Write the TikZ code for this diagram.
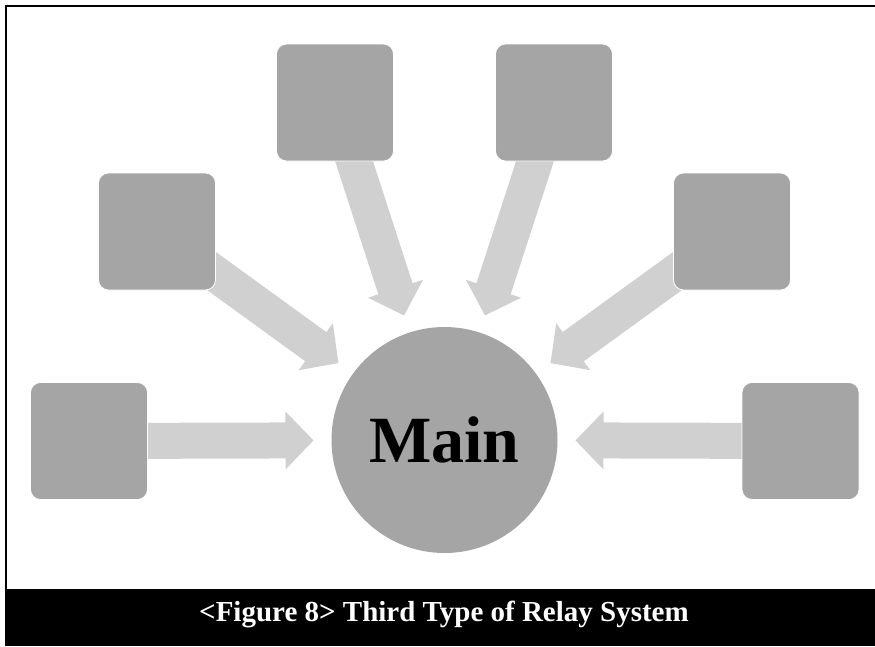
\documentclass[tikz,border=0pt]{standalone}
\usepackage{fontspec}
\setmainfont{Liberation Serif}
\usetikzlibrary{calc,backgrounds}
\definecolor{boxgray}{HTML}{A5A5A5}
\definecolor{arrowgray}{HTML}{D0D0D0}
\tikzset{
  outer/.style={rectangle, rounded corners=10pt, minimum width=117pt, minimum height=117pt,
    inner sep=0pt, fill=boxgray, draw=white, line width=0.8pt},
  hub/.style={circle, minimum size=226pt, inner sep=0pt, fill=boxgray,
    font=\fontsize{66}{70}\selectfont\bfseries},
  blockarrow/.style={fill=arrowgray},
  frame/.style={line width=2pt, draw=black},
  captiontext/.style={font=\fontsize{29}{32}\selectfont\bfseries, text=white, anchor=base, inner sep=0pt},
}
\newcommand\relayarrow[2]{%
  \coordinate (tip#1) at ($(#2)!131pt!(#1)$);
  \fill[blockarrow] let \p1=($(#2)-(#1)$), \n1={atan2(\y1,\x1)} in
    [shift={(tip#1)}, rotate=\n1]
    (0pt,0pt) -- (-28pt,29pt) -- (-28pt,18pt) -- (-205pt,18pt) -- (-205pt,-18pt)
    -- (-28pt,-18pt) -- (-28pt,-29pt) -- cycle;
}
\begin{document}
\begin{tikzpicture}[x=1pt,y=-1pt]
  \useasboundingbox (0,0) rectangle (875,646);
  % frame and caption bar
  \draw[frame] (875,6) -- (6,6) -- (6,590);
  \fill[black] (5,589) rectangle (875,646);
  \node[captiontext] (cap) at (444,621) {<Figure 8> Third Type of Relay System};
  % hub
  \node[hub] (m) at (444.5,440) {Main};
  % outer boxes
  \node[outer] (b1) at (89,441) {};
  \node[outer] (b2) at (157,231.5) {};
  \node[outer] (b3) at (335,102.5) {};
  \node[outer] (b4) at (554,102.5) {};
  \node[outer] (b5) at (732,231.5) {};
  \node[outer] (b6) at (800.5,441) {};
  % arrows
  \begin{pgfonlayer}{background}
    \relayarrow{b1}{m}
    \relayarrow{b2}{m}
    \relayarrow{b3}{m}
    \relayarrow{b4}{m}
    \relayarrow{b5}{m}
    \relayarrow{b6}{m}
  \end{pgfonlayer}
\end{tikzpicture}
\end{document}
